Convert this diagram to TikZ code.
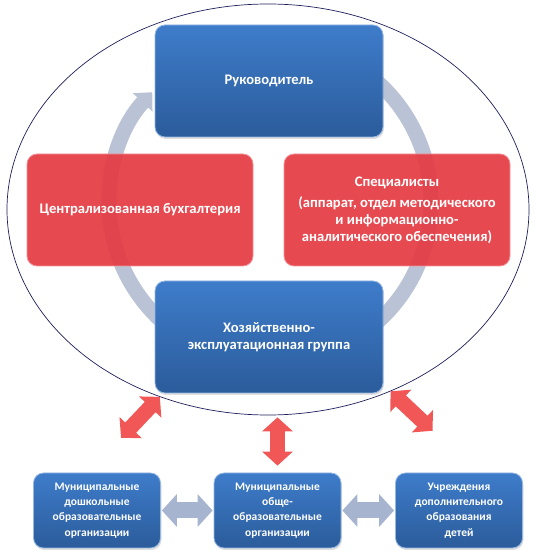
\documentclass[tikz,border=0pt]{standalone}
\usepackage{fontspec}
\setmainfont{Carlito}
\usetikzlibrary{arrows.meta, positioning, shapes.geometric, calc, shadows}
\definecolor{cblue}{HTML}{3E7CCA}
\definecolor{cbluedk}{HTML}{2B5C9B}
\definecolor{cred}{HTML}{E53A42}
\definecolor{cring}{HTML}{BAC3D6}
\definecolor{cslate}{HTML}{A7B4D0}
\definecolor{carrow}{HTML}{F25757}
\definecolor{cnavy}{HTML}{1E1E5C}
\tikzset{
  every picture/.style={x=1pt, y=1pt, font=\bfseries},
  box/.style={rounded corners=10pt, align=center, inner sep=4pt, text=white, draw=#1!55!white, line width=0.8pt},
  box/.default=cblue,
  bluebox/.style={box=cblue, top color=cblue, bottom color=cbluedk, drop shadow={opacity=0.25, shadow xshift=1pt, shadow yshift=-2pt}},
  redbox/.style={box=cred, fill=cred, fill opacity=0.92, text opacity=1},
  big/.style={minimum width=228pt, minimum height=112pt, font=\bfseries\fontsize{14.6}{16.7}\selectfont},
  small/.style={minimum width=127pt, minimum height=75pt, font=\bfseries\fontsize{11.5}{15.2}\selectfont},
  redarrow/.style={{Triangle[width=30pt, length=14pt]}-{Triangle[width=30pt, length=14pt]}, draw=carrow, line width=15pt},
  greyarrow/.style={{Triangle[width=32pt, length=15pt]}-{Triangle[width=32pt, length=15pt]}, draw=cslate, line width=16pt, shorten <=1pt, shorten >=1pt},
  ring/.style={-{Triangle[width=26pt, length=14pt]}, draw=cring, line width=15pt},
}
\begin{document}
\begin{tikzpicture}
  \useasboundingbox (0,0) rectangle (541,555);
  % outer ellipse and cycle arrow
  \node[ellipse, draw=cnavy, line width=0.7pt, minimum width=522pt, minimum height=411pt, inner sep=0pt] (ell) at (268,345.5) {};
  \coordinate (rc) at (270,353);
  \draw[ring] ($(rc)+(70:161)$) arc[start angle=70, end angle=-223, radius=161];
  % management
  \node[bluebox, big] (head) at (269,474) {Руководитель};
  \node[redbox, big, minimum width=226pt] (acc) at (140,345) {Централизованная бухгалтерия};
  \node[redbox, big, minimum width=226pt] (spec) at (397,345) {Специалисты\\[5pt](аппарат, отдел методического\\и информационно-\\аналитического обеспечения)};
  \node[bluebox, big] (serv) at (269,218) {Хозяйственно-\\эксплуатационная группа};
  % organisations
  \node[bluebox, small] (low1) at (97,44.5) {Муниципальные\\дошкольные\\образовательные\\организации};
  \node[bluebox, small] (low2) at (277.5,44.5) {Муниципальные\\обще-\\образовательные\\организации};
  \node[bluebox, small] (low3) at (459,44.5) {Учреждения\\дополнительного\\образования\\детей};
  \draw[greyarrow] (low1) -- (low2);
  \draw[greyarrow] (low2) -- (low3);
  % links to the ellipse
  \draw[redarrow, shorten >=48pt] (ell.240) -- ([xshift=-9pt]low1.north);
  \draw[redarrow, shorten <=2pt, shorten >=7pt] (low2.north |- ell.south) -- (low2.north);
  \draw[redarrow, shorten >=61pt] (ell.304) -- ([xshift=18pt]low3.north);
\end{tikzpicture}
\end{document}
